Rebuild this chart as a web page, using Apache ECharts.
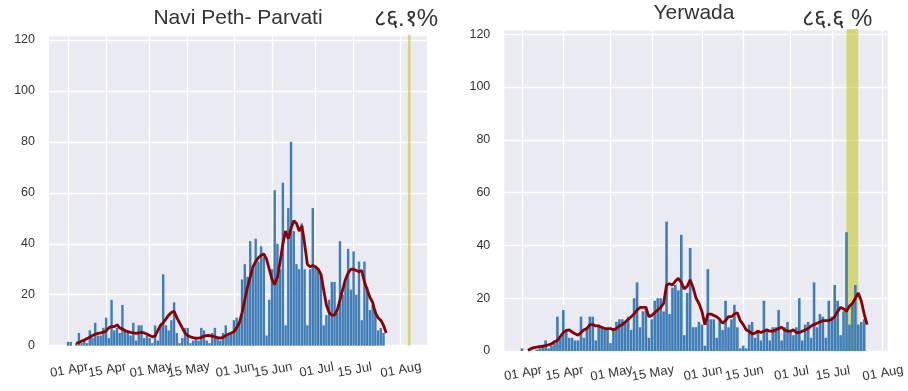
<!DOCTYPE html>
<html><head><meta charset="utf-8">
<script src="https://cdn.jsdelivr.net/npm/echarts@6/dist/echarts.min.js"></script>
<style>html,body{margin:0;padding:0;background:#fff}#c{width:908px;height:391px}</style>
</head><body><div id="c"></div>
<script>
// ---------- data ----------
const leftTitle = 'Navi Peth- Parvati';
const rightTitle = 'Yerwada';
const leftPct = '८६.१%';
const rightPct = '८६.६ %';
const tickLabels = ['01 Apr','15 Apr','01 May','15 May','01 Jun','15 Jun','01 Jul','15 Jul','01 Aug'];

// daily counts starting 01 Apr
const leftCounts = [
  1.5,1.5,0,1,5,1,2,1,6,3,
  9,4,4,7,11,3,18,6,7,5,
  16,6,5,4,9,2,8,8,3,4,
  3,1,8,2,8,28,8,6,10,17,
  5,1,3,7,7,1,2,3,2,7,
  6,2,1,5,7,3,2,5,8,4,
  5,10,11,9,26,32,27,41,30,42,
  33,39,35,4,18,30,61,40,30,64,
  8,54,80,45,32,30,48,30,8,30,
  54,31,30,28,8,12,18,25,25,13,
  41,20,26,38,22,37,20,33,10,33,
  23,14,16,14,6,7,5
];
// 7-day average line starting 04 Apr
const leftAvg = [
  1,1.2,1.8,2.2,2.8,3.3,4,4.5,4.8,5,
  5.3,5.8,7,7.5,7.5,8.2,7,6.5,6,5.5,
  5.2,5,4.8,5,5.2,5,4.6,4,3.5,3.8,
  6,8,9,10.5,12,13,13.5,11,9,7,
  5,4,3.5,3.2,3,3,3.2,3.8,4,4,
  3.8,3.5,3.2,3,3.3,4,4.5,5,5.5,7,
  9,13,18,23,27,31,33,34.5,35.5,36,
  34,30,26,24,27,33,40,45,42,46,
  49,48,45,47,40,32,31,31.5,31,30,
  28,22,16,13,12,12,14,18,22,26,
  28.5,30,30,29.5,29,29.5,25,22,19,17,
  13,11,10,8,5
];
// daily counts starting 01 Apr
const rightCounts = [
  1,0,0,0,0,0.5,1,2,4,1,
  2,3,13,5,15.5,8,5,5,4,4,
  13,5,9,13,13,4,10,9,8,8,
  3,8,11,12,12,11,13,8,20,26,
  9,15,17,5,12,19,20,20,15,49,
  14,24,25,23,44,6,22,39,9,9,
  11,10,2,31,12,12,5,12,8,19,
  9,12,17.5,9,1,2,1,10,11,5,
  8,4,19,8,4,9,9,15.5,4,9,
  11,8,6,9,20,4,10,11,5,26,
  9,14,13,5,19,13,25,19,6,15,
  45,10,18,25,10,11,12
];
// 7-day average line starting 03 Apr
const rightAvg = [
  0.3,0.8,1.3,1.5,1.7,1.8,2,2.3,2.7,3.5,
  4,5.5,7,7.8,8,7.2,6.5,6,7,8,
  8.5,10,10,9.5,9.5,9,8.5,8.5,8.5,8,
  8.5,9.5,10,11,12,13,14,15.5,16.5,16.5,
  16.5,13,13.5,14.5,15.5,16.5,18,25,25.5,25,
  26.5,27.5,26,23.5,24.5,27,24,20,18,15,
  10,14,14,13.5,13,12,10.5,11.5,13,13,
  14,14.5,11.5,10,8,7.5,6.5,6.8,7.5,7,
  7.5,8,7.5,7.5,8,8.5,9,8,7.5,7.5,
  8,7,7,7.5,8,8.5,9.5,10,10.5,11,
  11.5,11.5,11.5,12,13,15,16.5,16,15,17,
  18,20,22,19,14,10
];
const leftHighlight = ['04 Aug', '05 Aug'];
const rightHighlight = ['20 Jul', '24 Jul'];

// ---------- helpers ----------
const MON = ['Jan','Feb','Mar','Apr','May','Jun','Jul','Aug','Sep','Oct','Nov','Dec'];
function makeCats(startIso, endIso) {
  const out = [];
  let d = new Date(startIso + 'T00:00:00Z');
  const e = new Date(endIso + 'T00:00:00Z');
  while (d <= e) {
    out.push(String(d.getUTCDate()).padStart(2, '0') + ' ' + MON[d.getUTCMonth()]);
    d = new Date(d.getTime() + 86400000);
  }
  return out;
}
function align(cats, startLabel, values) {
  const arr = cats.map(() => null);
  const s = cats.indexOf(startLabel);
  values.forEach((v, i) => { if (s + i < arr.length) arr[s + i] = v; });
  return arr;
}
const leftCats = makeCats('2020-03-25', '2020-08-11');
const rightCats = makeCats('2020-03-26', '2020-08-03');
const firstTick = tickLabels[0];
const otherTicks = tickLabels.slice(1);
const isTick = (idx, val) => tickLabels.indexOf(val) >= 0;
const isOtherTick = (idx, val) => otherTicks.indexOf(val) >= 0;
const isFirstTick = (idx, val) => val === firstTick;

const FONT = '"Liberation Sans", Arial, sans-serif';
const TXT = '#333';
const BG = '#eaeaf2';
const BAR = '#3f7db6';
const LINE = '#8b0000';
const SPAN = 'rgba(191,191,0,0.5)';
const YMAX = 122;

function labelStyle(intervalFn, margin) {
  return {interval: intervalFn, rotate: 10, align: 'center', verticalAlign: 'top',
    showMinLabel: true, showMaxLabel: true, hideOverlap: false,
    margin: margin, fontSize: 13, color: TXT, fontFamily: FONT};
}
// main axis: split lines for every tick, labels for all ticks but the first
function xAxisMain(gi, cats, margin) {
  return {
    type: 'category', gridIndex: gi, data: cats, boundaryGap: false,
    axisLine: {show: false}, axisTick: {show: false},
    axisLabel: labelStyle(isOtherTick, margin),
    splitLine: {show: true, interval: isTick, lineStyle: {color: '#fff', width: 1.3}}
  };
}
// companion axis on the same grid carrying only the first tick label
function xAxisFirst(gi, cats, margin) {
  return {
    type: 'category', gridIndex: gi, data: cats, boundaryGap: false, position: 'bottom',
    axisLine: {show: false}, axisTick: {show: false},
    axisLabel: labelStyle(isFirstTick, margin),
    splitLine: {show: false}
  };
}
function yAxis(gi) {
  return {
    type: 'value', gridIndex: gi, min: 0, max: YMAX, interval: 20,
    axisLine: {show: false}, axisTick: {show: false},
    axisLabel: {showMaxLabel: false, margin: 14, fontSize: 12.5, color: TXT, fontFamily: FONT},
    splitLine: {lineStyle: {color: '#fff', width: 1.3}}
  };
}
function spanSeries(gi, hl) {
  return {
    type: 'custom', xAxisIndex: gi, yAxisIndex: gi, silent: true, z: 1, animation: false,
    data: [[hl[0], hl[1]]],
    encode: {x: [0, 1]},
    renderItem: function (params, api) {
      const p0 = api.coord([api.value(0), YMAX]);
      const p1 = api.coord([api.value(1), 0]);
      return {type: 'rect', shape: {x: p0[0], y: p0[1], width: p1[0] - p0[0], height: p1[1] - p0[1]},
        style: {fill: SPAN}};
    }
  };
}
function barSeries(gi, cats, vals) {
  return {
    type: 'bar', xAxisIndex: gi, yAxisIndex: gi, data: align(cats, '01 Apr', vals),
    barCategoryGap: '12%', itemStyle: {color: BAR}, animation: false, z: 2
  };
}
function lineSeries(gi, cats, start, vals) {
  return {
    type: 'line', xAxisIndex: gi, yAxisIndex: gi, data: align(cats, start, vals),
    showSymbol: false, z: 5, animation: false,
    lineStyle: {color: LINE, width: 2.8}
  };
}

const chart = echarts.init(document.getElementById('c'), null, {renderer: 'canvas'});
chart.setOption({
  backgroundColor: '#fff',
  animation: false,
  textStyle: {fontFamily: FONT},
  grid: [
    {left: 49, top: 34.8, width: 378, height: 310.9, show: true, backgroundColor: BG, borderWidth: 0, outerBoundsMode: 'none'},
    {left: 504.3, top: 28.9, width: 383.5, height: 322.1, show: true, backgroundColor: BG, borderWidth: 0, outerBoundsMode: 'none'}
  ],
  xAxis: [xAxisMain(0, leftCats, 18), xAxisMain(1, rightCats, 16),
          xAxisFirst(0, leftCats, 18), xAxisFirst(1, rightCats, 16)],
  yAxis: [yAxis(0), yAxis(1)],
  series: [
    spanSeries(0, leftHighlight),
    barSeries(0, leftCats, leftCounts),
    lineSeries(0, leftCats, '04 Apr', leftAvg),
    spanSeries(1, rightHighlight),
    barSeries(1, rightCats, rightCounts),
    lineSeries(1, rightCats, '03 Apr', rightAvg)
  ],
  graphic: [
    {type: 'text', x: 238, y: 18, style: {text: leftTitle, font: '21px ' + FONT, fill: TXT, textAlign: 'center', textVerticalAlign: 'middle'}},
    {type: 'text', x: 406, y: 19, style: {text: leftPct, font: '24px ' + FONT, fill: TXT, textAlign: 'center', textVerticalAlign: 'middle'}},
    {type: 'text', x: 694, y: 13, style: {text: rightTitle, font: '21px ' + FONT, fill: TXT, textAlign: 'center', textVerticalAlign: 'middle'}},
    {type: 'text', x: 837, y: 19, style: {text: rightPct, font: '24px ' + FONT, fill: TXT, textAlign: 'center', textVerticalAlign: 'middle'}}
  ]
});
</script>
</body></html>
